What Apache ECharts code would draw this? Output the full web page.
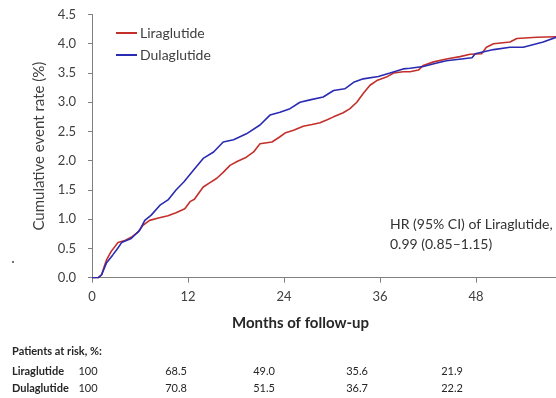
<!DOCTYPE html>
<html>
<head>
<meta charset="utf-8">
<script src="https://cdn.jsdelivr.net/npm/echarts@6/dist/echarts.min.js"></script>
<style>
  html, body { margin: 0; padding: 0; background: #fff; }
  #chart { width: 556px; height: 398px; }
</style>
</head>
<body>
<div id="chart"></div>
<script>
// Cumulative event rate (%) by month of follow-up, [month, rate]
const liraglutide = [
  [0,0],[0.8,0],[1.2,0.05],[1.5,0.18],[1.8,0.30],[2.4,0.45],[3.25,0.60],[4.0,0.63],[4.9,0.69],
  [5.75,0.78],[6.4,0.90],[7.2,0.98],[8.3,1.02],[9.5,1.06],[10.5,1.11],[11.6,1.18],[12.25,1.30],
  [12.8,1.34],[13.9,1.55],[14.8,1.63],[15.6,1.70],[16.4,1.80],[17.25,1.92],[18.2,1.99],[19.3,2.06],
  [20.2,2.15],[21,2.29],[22.5,2.32],[23.5,2.41],[24.2,2.48],[25.2,2.52],[26.4,2.59],[27.5,2.62],
  [28.5,2.65],[29.4,2.70],[30.2,2.75],[31.4,2.82],[32.25,2.89],[33.1,3.00],[33.9,3.15],[34.75,3.29],
  [35.6,3.37],[36.8,3.43],[37.7,3.50],[38.9,3.52],[39.75,3.52],[40.8,3.55],[41.4,3.63],[42.7,3.69],
  [44.3,3.74],[46,3.78],[47.25,3.82],[48.7,3.83],[49.3,3.94],[50.2,4.00],[52.25,4.03],[53.1,4.09],
  [55.6,4.11],[58,4.12]
];
const dulaglutide = [
  [0,0],[0.8,0],[1.2,0.05],[1.8,0.25],[2.6,0.39],[3.2,0.50],[3.7,0.60],[4.9,0.67],[5.95,0.81],
  [6.6,0.98],[7.4,1.07],[8.5,1.24],[9.5,1.33],[10.5,1.50],[11.5,1.64],[12.7,1.84],[13.9,2.04],
  [15.2,2.15],[16.4,2.32],[17.7,2.36],[19.3,2.46],[21,2.61],[22.25,2.78],[23.5,2.83],[24.75,2.89],
  [26,3.00],[27.25,3.04],[28.9,3.09],[30.2,3.20],[31.6,3.23],[32.7,3.34],[33.9,3.40],[35.8,3.44],
  [37.25,3.50],[38.9,3.57],[39.75,3.58],[41.4,3.61],[43.1,3.67],[44.3,3.71],[47.5,3.76],[47.9,3.83],
  [50.2,3.90],[52.25,3.94],[53.9,3.94],[56.4,4.03],[58,4.11]
];

// Axis ticks
const monthTicks = [0, 12, 24, 36, 48];

// Patients at risk (%) table
const riskRowNames = ['Liraglutide', 'Dulaglutide'];
const riskLiraglutide = ['100', '68.5', '49.0', '35.6', '21.9'];
const riskDulaglutide = ['100', '70.8', '51.5', '36.7', '22.2'];

const FONT = 'Lato, "Open Sans", sans-serif';
const TEXT = '#404040';
const RED = '#c3302c';
const BLUE = '#2a2bb3';

// table layout
const riskColX = [88, 176, 264, 357, 452];
const riskRowY = [371, 388];

const graphics = [
  { type: 'text', left: 232, top: 316,
    style: { text: 'Months of follow-up', font: 'bold 15px ' + FONT, fill: '#262626' } },
  { type: 'text', left: 12, top: 346,
    style: { text: 'Patients at risk, %:', font: 'bold 11px ' + FONT, fill: '#262626' } },
  { type: 'text', left: 390, top: 214,
    style: { text: 'HR (95% CI) of Liraglutide,\n0.99 (0.85\u20131.15)', font: '14px ' + FONT,
             fill: '#333', lineHeight: 20 } },
  { type: 'circle', shape: { cx: 13, cy: 262, r: 1 }, style: { fill: '#444' } }
];
[riskLiraglutide, riskDulaglutide].forEach((row, r) => {
  graphics.push({ type: 'text', x: 12, y: riskRowY[r],
    style: { text: riskRowNames[r], font: 'bold 11px ' + FONT, fill: '#262626', verticalAlign: 'middle' } });
  row.forEach((v, c) => {
    graphics.push({ type: 'text', x: riskColX[c], y: riskRowY[r],
      style: { text: v, font: '11px ' + FONT, fill: '#262626', align: 'center', verticalAlign: 'middle' } });
  });
});

const chart = echarts.init(document.getElementById('chart'), null, { renderer: 'canvas' });
chart.setOption({
  animation: false,
  backgroundColor: '#fff',
  grid: { left: 92, right: 0, top: 14.5, bottom: 120.3, containLabel: false },
  legend: {
    orient: 'vertical', left: 111, top: 20, itemWidth: 21, itemHeight: 2, itemGap: 6,
    icon: 'rect',
    textStyle: { fontFamily: FONT, fontSize: 14, color: TEXT, lineHeight: 16, padding: [0, 0, 0, -2] },
    data: ['Liraglutide', 'Dulaglutide']
  },
  xAxis: {
    type: 'value', min: 0, max: 58, interval: 12,
    axisLine: { lineStyle: { color: '#7f7f7f', width: 1 } },
    axisTick: { show: true, length: 5, lineStyle: { color: '#7f7f7f' }, customValues: monthTicks },
    axisLabel: { fontFamily: FONT, fontSize: 13, color: TEXT, margin: 13, customValues: monthTicks },
    splitLine: { show: false }
  },
  yAxis: {
    type: 'value', min: 0, max: 4.5, interval: 0.5,
    name: 'Cumulative event rate (%)', nameLocation: 'middle', nameGap: 44,
    nameTextStyle: { fontFamily: FONT, fontSize: 15, color: TEXT },
    axisLine: { show: true, lineStyle: { color: '#7f7f7f', width: 1 } },
    axisTick: { show: true, length: 4, lineStyle: { color: '#7f7f7f' } },
    axisLabel: { fontFamily: FONT, fontSize: 13, color: TEXT, margin: 16,
                 formatter: v => v.toFixed(1) },
    splitLine: { show: false }
  },
  series: [
    { name: 'Liraglutide', type: 'line', data: liraglutide, showSymbol: false,
      lineStyle: { color: RED, width: 1.6 }, itemStyle: { color: RED } },
    { name: 'Dulaglutide', type: 'line', data: dulaglutide, showSymbol: false,
      lineStyle: { color: BLUE, width: 1.6 }, itemStyle: { color: BLUE } }
  ],
  graphic: graphics
});
</script>
</body>
</html>
